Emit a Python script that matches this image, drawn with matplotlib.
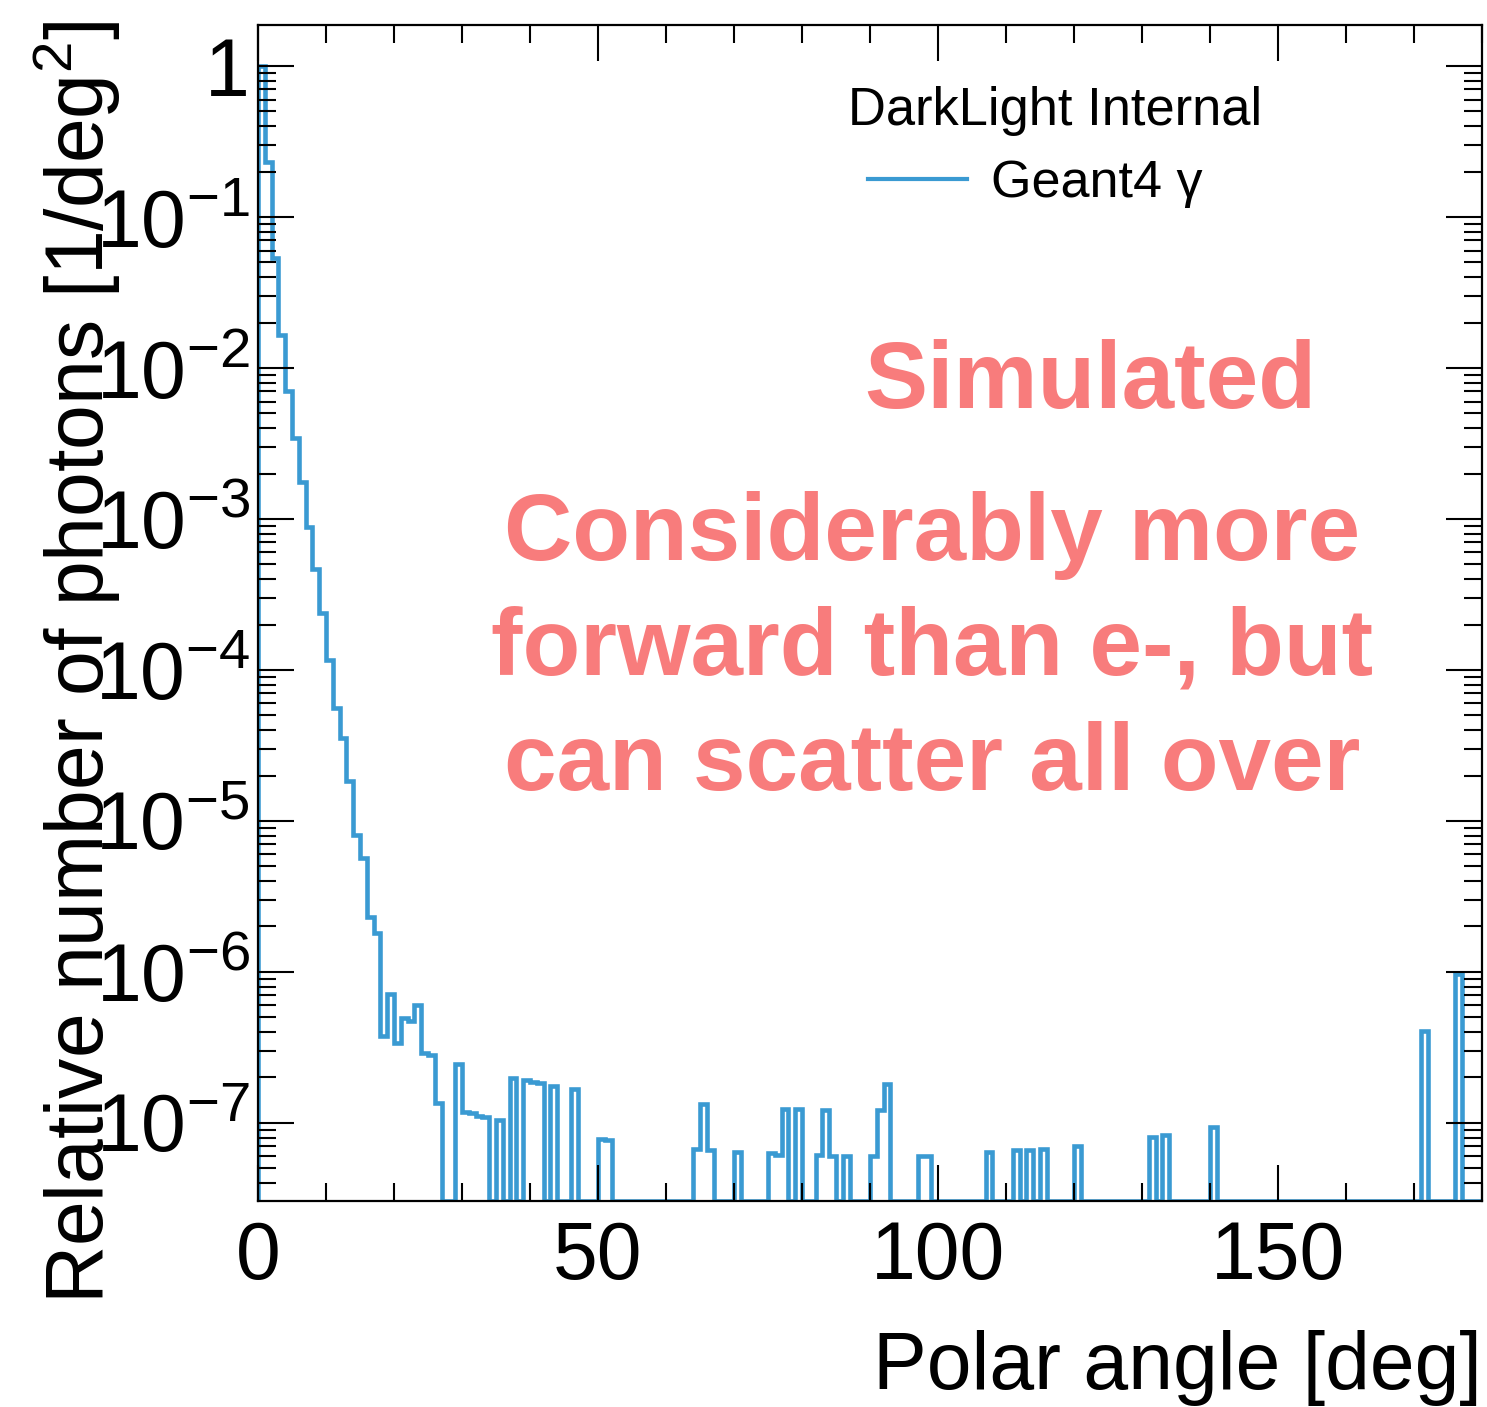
import numpy as np
import matplotlib
matplotlib.use("Agg")
import matplotlib.pyplot as plt
from matplotlib.lines import Line2D
from matplotlib.ticker import MultipleLocator, LogLocator, FuncFormatter, NullFormatter

# Photon polar-angle distribution, 1-degree bins (only non-empty bins listed)
angle_bins = [0, 1, 2, 3, 4, 5, 6, 7, 8, 9, 10, 11, 12, 13, 14, 15, 16, 17,
              18, 19, 20, 21, 22, 23, 24, 25, 26, 29, 30, 31, 32, 33, 35, 37,
              39, 40, 41, 43, 46, 50, 51, 64, 65, 66, 70, 75, 76, 77, 79, 82,
              83, 84, 86, 90, 91, 92, 97, 98, 107, 111, 113, 115, 120, 131,
              133, 140, 171, 176]
photon_density = [1.0, 0.232, 0.0532, 0.0166, 7.08e-3, 3.42e-3, 1.77e-3,
                  8.9e-4, 4.65e-4, 2.37e-4, 1.16e-4, 5.57e-5, 3.53e-5, 1.85e-5,
                  8.07e-6, 5.66e-6, 2.32e-6, 1.80e-6, 3.77e-7, 7.14e-7, 3.40e-7,
                  4.93e-7, 4.73e-7, 6.04e-7, 2.90e-7, 2.81e-7, 1.35e-7, 2.45e-7,
                  1.19e-7, 1.16e-7, 1.11e-7, 1.09e-7, 1.05e-7, 1.98e-7, 1.91e-7,
                  1.87e-7, 1.83e-7, 1.76e-7, 1.67e-7, 7.83e-8, 7.70e-8, 6.70e-8,
                  1.34e-7, 6.60e-8, 6.37e-8, 6.30e-8, 6.10e-8, 1.24e-7, 1.24e-7,
                  6.10e-8, 1.22e-7, 6.07e-8, 6.07e-8, 6.07e-8, 1.21e-7, 1.81e-7,
                  6.07e-8, 6.07e-8, 6.37e-8, 6.60e-8, 6.65e-8, 6.77e-8, 7.05e-8,
                  8.11e-8, 8.37e-8, 9.46e-8, 4.07e-7, 9.70e-7]

n_bins = 180
angle_range = (0, 180)
y_range = (3.04e-8, 1.87)

x_label = "Polar angle [deg]"
y_label = "Relative number of photons [1/deg$^{2}$]"
header = "DarkLight Internal"
series_label = "Geant4 \u03b3"
notes = ["Simulated", "Considerably more", "forward than e-, but",
         "can scatter all over"]

line_color = "#3a9ad2"
note_color = "#f87c7c"

plt.rcParams["font.family"] = ["Liberation Sans", "DejaVu Sans"]
plt.rcParams["mathtext.fontset"] = "custom"
plt.rcParams["mathtext.rm"] = "Liberation Sans"
plt.rcParams["mathtext.it"] = "Liberation Sans:italic"
plt.rcParams["mathtext.bf"] = "Liberation Sans:bold"

edges = np.linspace(angle_range[0], angle_range[1], n_bins + 1)
contents = np.zeros(n_bins)
contents[angle_bins] = photon_density
# empty bins sit on the bottom of the frame, as in a log-scale outline
drawn = np.maximum(contents, y_range[0])

fig = plt.figure(figsize=(14.87, 14.07), dpi=100)
ax = fig.add_axes([258 / 1487, 206 / 1407, 1224 / 1487, 1176 / 1407])

ax.stairs(drawn, edges, baseline=y_range[0], color=line_color, linewidth=3.3,
          zorder=1)

ax.set_yscale("log")
ax.set_xlim(*angle_range)
ax.set_ylim(*y_range)

ax.xaxis.set_major_locator(MultipleLocator(50))
ax.xaxis.set_minor_locator(MultipleLocator(10))
ax.yaxis.set_major_locator(LogLocator(base=10, numticks=20))
ax.yaxis.set_minor_locator(LogLocator(base=10, subs=np.arange(2, 10), numticks=50))
ax.yaxis.set_minor_formatter(NullFormatter())


def decade_label(v, pos):
    e = int(round(np.log10(v)))
    return "1" if e == 0 else rf"$10^{{{e}}}$"


ax.yaxis.set_major_formatter(FuncFormatter(decade_label))

ax.tick_params(which="both", direction="in", top=True, right=True,
               width=1.5, colors="black")
ax.tick_params(which="major", length=26, labelsize=58)
ax.tick_params(which="minor", length=13)
ax.tick_params(axis="x", which="major", pad=14)
ax.tick_params(axis="y", which="major", pad=6)
for sp in ax.spines.values():
    sp.set_linewidth(1.6)
    sp.set_zorder(3)

fig.text(1482 / 1487, 1 - 1389 / 1407, x_label, fontsize=58,
         ha="right", va="baseline")
fig.text(77 / 1487, 1 - 20 / 1407, y_label, fontsize=58, rotation=90,
         ha="center", va="top")

ax.text(0.482, 0.915, header, transform=ax.transAxes, fontsize=37.8,
        ha="left", va="baseline")
ax.legend(handles=[Line2D([], [], color=line_color, linewidth=3.0)],
          labels=[series_label], loc="center left",
          bbox_to_anchor=(0.4984, 0.8648), frameon=False, fontsize=37.5,
          handlelength=1.9, handletextpad=0.46, borderpad=0, borderaxespad=0)

note_pos = [(0.6797, 0.6743), (0.551, 0.545), (0.551, 0.4473), (0.551, 0.3495)]
for txt, (nx, ny) in zip(notes, note_pos):
    ax.text(nx, ny, txt, transform=ax.transAxes, fontsize=68,
            fontweight="bold", color=note_color, ha="center", va="baseline")

fig.savefig("out.png", dpi=100)
